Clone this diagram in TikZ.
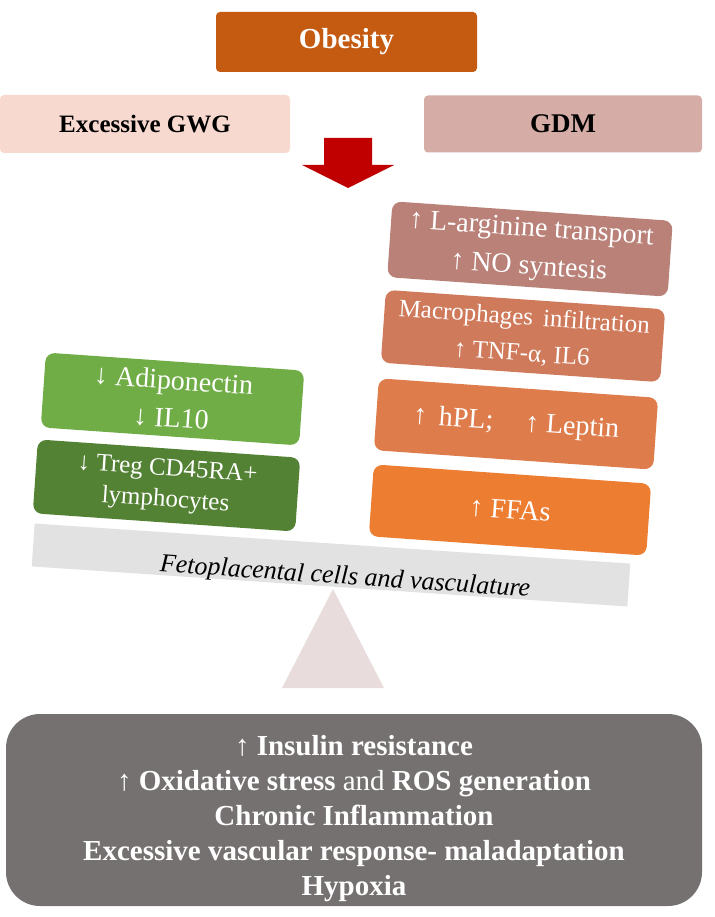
\documentclass[tikz,border=0pt]{standalone}
\usepackage{fontspec}
\setmainfont{Liberation Serif}

\definecolor{obesitycol}{HTML}{C55A11}
\definecolor{gwgcol}{HTML}{F8D9D0}
\definecolor{gdmcol}{HTML}{D5ADA6}
\definecolor{arrowcol}{HTML}{C00000}
\definecolor{argcol}{HTML}{B98178}
\definecolor{maccol}{HTML}{D07A5C}
\definecolor{hplcol}{HTML}{DE7C4C}
\definecolor{ffacol}{HTML}{ED7D31}
\definecolor{adipocol}{HTML}{70AD47}
\definecolor{tregcol}{HTML}{548235}
\definecolor{beamcol}{HTML}{E2E2E2}
\definecolor{fulcrumcol}{HTML}{E8DDDC}
\definecolor{bottomcol}{HTML}{767171}

\tikzset{
  title/.style={rounded corners=4pt, inner sep=0pt, font=\bfseries\fontsize{27}{30}\selectfont},
  tilted/.style={rotate=-4, rounded corners=9pt, inner sep=0pt, align=center, text=white,
    minimum width=280pt, minimum height=73pt, font=\fontsize{27}{37}\selectfont}
}

\begin{document}
\begin{tikzpicture}[x=1pt,y=-1pt]
\useasboundingbox (0,0) rectangle (714,917);

% causes
\node[title, fill=obesitycol, text=white, minimum width=261pt, minimum height=60pt, font=\bfseries\fontsize{29}{30}\selectfont] (obesity) at (346.5,42) {Obesity};
\node[title, fill=gwgcol, minimum width=290pt, minimum height=58pt, font=\bfseries\fontsize{25}{30}\selectfont] (gwg) at (145,124) {Excessive GWG};
\node[title, fill=gdmcol, minimum width=278pt, minimum height=57pt] (gdm) at (563,124) {GDM};

% big red arrow
\coordinate (arrtop) at (348,138);
\fill[arrowcol] (arrtop) ++(-24,0) -- ++(48,0) -- ++(0,27) -- ++(22,0) -- (348,188) -- (302,165) -- ++(22,0) -- cycle;

% fulcrum and beam
\fill[fulcrumcol] (333,589) -- (384,688) -- (282,688) -- cycle;
\node[rotate=-3.85, fill=beamcol, minimum width=597pt, minimum height=43pt, inner sep=0pt] (beam) at (331,565) {};
\node[rotate=-3.85, font=\itshape\fontsize{26}{30}\selectfont] (beamtext) at (345,578) {Fetoplacental cells and vasculature};

% left pan
\node[tilted, fill=adipocol, minimum width=259pt, minimum height=75pt, font=\fontsize{28}{38}\selectfont] (adipo) at (172.5,399) {↓ Adiponectin\\↓ IL10};
\node[tilted, fill=tregcol, minimum width=263pt, minimum height=74pt, font=\fontsize{25}{31}\selectfont] (treg) at (166.5,485.5) {↓ Treg CD45RA+\\lymphocytes};

% right pan
\node[tilted, fill=argcol, minimum width=281pt, minimum height=76pt, font=\fontsize{28}{38}\selectfont] (arg) at (530,249) {↑ L-arginine transport\\↑ NO syntesis};
\node[tilted, fill=maccol, font=\fontsize{25}{36}\selectfont] (mac) at (523,336) {Macrophages\hspace{10pt}infiltration\\↑ TNF-α, IL6};
\node[tilted, fill=hplcol, minimum height=72pt, font=\fontsize{28}{36}\selectfont] (hpl) at (516,424) {↑\hspace{12pt}hPL;\hspace{32pt}↑ Leptin};
\node[tilted, fill=ffacol, minimum width=278pt, minimum height=72pt, font=\fontsize{28}{36}\selectfont] (ffa) at (510,510) {↑ FFAs};

% consequences
\node[fill=bottomcol, rounded corners=34pt, minimum width=696pt, minimum height=192pt, inner sep=0pt] (outcome) at (354,810) {};
\node[align=center, text=white, font=\bfseries\fontsize{29}{35}\selectfont] (outcometext) at (outcome.center) [yshift=-9pt]
  {{\mdseries ↑} Insulin resistance\\
   {\mdseries ↑} Oxidative stress {\mdseries and} ROS generation\\
   Chronic Inflammation\\
   Excessive vascular response- maladaptation\\
   Hypoxia};
\end{tikzpicture}
\end{document}
